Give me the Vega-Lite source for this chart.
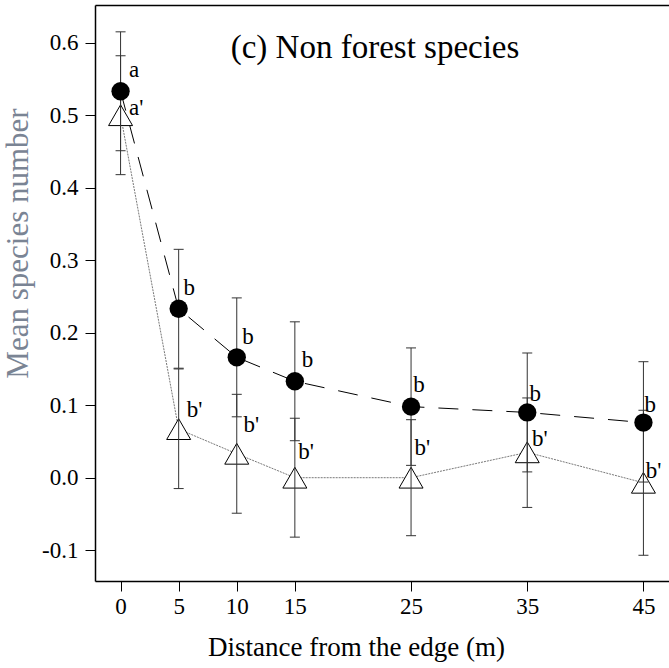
{
  "$schema": "https://vega.github.io/schema/vega-lite/v6.json",
  "autosize": "none",
  "width": 574,
  "height": 576,
  "padding": {"left": 95, "top": 5, "right": 0, "bottom": 87},
  "background": "white",
  "config": {
    "view": {"stroke": null},
    "font": "Liberation Serif",
    "style": {"guide-label": {"font": "Liberation Serif"}, "guide-title": {"font": "Liberation Serif"}},
    "axis": {
      "grid": false,
      "domainColor": "black",
      "domainWidth": 1.5,
      "tickColor": "black",
      "tickWidth": 1,
      "tickSize": 10,
      "labelFont": "Liberation Serif",
      "labelColor": "black",
      "labelFontSize": 23,
      "titleFont": "Liberation Serif",
      "titleFontWeight": "normal"
    }
  },
  "datasets": {
    "stats": [
      {"distance": 0, "series": "filled", "mean": 0.533, "lower": 0.451, "upper": 0.615},
      {"distance": 5, "series": "filled", "mean": 0.233, "lower": 0.151, "upper": 0.315},
      {"distance": 10, "series": "filled", "mean": 0.166, "lower": 0.084, "upper": 0.248},
      {"distance": 15, "series": "filled", "mean": 0.133, "lower": 0.051, "upper": 0.215},
      {"distance": 25, "series": "filled", "mean": 0.098, "lower": 0.017, "upper": 0.179},
      {"distance": 35, "series": "filled", "mean": 0.090, "lower": 0.008, "upper": 0.172},
      {"distance": 45, "series": "filled", "mean": 0.076, "lower": -0.006, "upper": 0.160},
      {"distance": 0, "series": "open", "mean": 0.500, "lower": 0.418, "upper": 0.582},
      {"distance": 5, "series": "open", "mean": 0.067, "lower": -0.015, "upper": 0.150},
      {"distance": 10, "series": "open", "mean": 0.033, "lower": -0.049, "upper": 0.115},
      {"distance": 15, "series": "open", "mean": 0.000, "lower": -0.082, "upper": 0.082},
      {"distance": 25, "series": "open", "mean": 0.000, "lower": -0.080, "upper": 0.080},
      {"distance": 35, "series": "open", "mean": 0.035, "lower": -0.041, "upper": 0.110},
      {"distance": 45, "series": "open", "mean": -0.007, "lower": -0.107, "upper": 0.093}
    ],
    "letters": [
      {"distance": 0.72, "value": 0.562, "label": "a"},
      {"distance": 0.72, "value": 0.510, "label": "a'"},
      {"distance": 5.42, "value": 0.261, "label": "b"},
      {"distance": 5.7, "value": 0.094, "label": "b'"},
      {"distance": 10.47, "value": 0.194, "label": "b"},
      {"distance": 10.58, "value": 0.073, "label": "b'"},
      {"distance": 15.6, "value": 0.163, "label": "b"},
      {"distance": 15.3, "value": 0.036, "label": "b'"},
      {"distance": 25.2, "value": 0.128, "label": "b"},
      {"distance": 25.3, "value": 0.041, "label": "b'"},
      {"distance": 35.2, "value": 0.115, "label": "b"},
      {"distance": 35.4, "value": 0.054, "label": "b'"},
      {"distance": 45.1, "value": 0.100, "label": "b"},
      {"distance": 45.2, "value": 0.0097, "label": "b'"}
    ],
    "heading": [
      {"text": "(c) Non forest species"}
    ]
  },
  "resolve": {"axis": {"x": "independent"}},
  "layer": [
    {
      "data": {"name": "stats"},
      "transform": [{"filter": "datum.series === 'filled'"}],
      "mark": {"type": "line", "color": "black", "strokeWidth": 1, "strokeDash": [20, 14]},
      "encoding": {
        "x": {
          "field": "distance", "type": "quantitative",
          "scale": {"domain": [-2.2, 47.2], "nice": false, "zero": false},
          "axis": {
            "orient": "bottom",
            "values": [0, 5, 10, 15, 25, 35, 45],
            "labelPadding": 4,
            "labelFont": "Times New Roman",
            "title": "Distance from the edge (m)",
            "titleFontSize": 27,
            "titleColor": "black",
            "titleX": 261,
            "titleY": 74,
            "titleAlign": "center",
            "titleBaseline": "alphabetic"
          }
        },
        "y": {
          "field": "mean", "type": "quantitative",
          "scale": {"domain": [-0.1425, 0.652], "nice": false, "zero": false},
          "axis": {
            "values": [-0.1, 0, 0.1, 0.2, 0.3, 0.4, 0.5, 0.6],
            "labelExpr": "replace(format(datum.value, '.1f'), '\u2212', '-')",
            "labelPadding": 7,
            "labelFont": "Times New Roman",
            "title": "Mean species number",
            "titleFontSize": 31,
            "titleColor": "#7a8494",
            "titleX": -77,
            "titleY": 238,
            "titleAlign": "center",
            "titleBaseline": "middle",
            "titleAngle": -90
          }
        }
      }
    },
    {
      "data": {"name": "stats"},
      "transform": [{"filter": "datum.series === 'open'"}],
      "mark": {"type": "line", "color": "#555", "strokeWidth": 0.8, "strokeDash": [2, 1]},
      "encoding": {
        "x": {"field": "distance", "type": "quantitative", "axis": null},
        "y": {"field": "mean", "type": "quantitative"}
      }
    },
    {
      "data": {"name": "stats"},
      "transform": [{"filter": "datum.series === 'open'"}],
      "mark": {"type": "point", "shape": "triangle-up", "size": 576, "filled": true, "fill": "white", "stroke": "black", "strokeWidth": 1, "opacity": 1},
      "encoding": {
        "x": {"field": "distance", "type": "quantitative", "axis": null},
        "y": {"field": "mean", "type": "quantitative"}
      }
    },
    {
      "data": {"name": "stats"},
      "mark": {"type": "rule", "color": "#333", "strokeWidth": 1},
      "encoding": {
        "x": {"field": "distance", "type": "quantitative", "axis": null},
        "y": {"field": "lower", "type": "quantitative"},
        "y2": {"field": "upper"}
      }
    },
    {
      "data": {"name": "stats"},
      "mark": {"type": "tick", "orient": "horizontal", "size": 10, "thickness": 1, "color": "#333", "opacity": 1},
      "encoding": {
        "x": {"field": "distance", "type": "quantitative", "axis": null},
        "y": {"field": "lower", "type": "quantitative"}
      }
    },
    {
      "data": {"name": "stats"},
      "mark": {"type": "tick", "orient": "horizontal", "size": 10, "thickness": 1, "color": "#333", "opacity": 1},
      "encoding": {
        "x": {"field": "distance", "type": "quantitative", "axis": null},
        "y": {"field": "upper", "type": "quantitative"}
      }
    },
    {
      "data": {"name": "stats"},
      "transform": [{"filter": "datum.series === 'filled'"}],
      "mark": {"type": "point", "shape": "circle", "size": 336, "filled": true, "color": "black", "opacity": 1},
      "encoding": {
        "x": {"field": "distance", "type": "quantitative", "axis": null},
        "y": {"field": "mean", "type": "quantitative"}
      }
    },
    {
      "data": {"name": "letters"},
      "mark": {"type": "text", "align": "left", "baseline": "middle", "font": "Times New Roman", "fontSize": 23, "color": "black"},
      "encoding": {
        "x": {"field": "distance", "type": "quantitative", "axis": null},
        "y": {"field": "value", "type": "quantitative"},
        "text": {"field": "label"}
      }
    },
    {
      "data": {"name": "heading"},
      "mark": {"type": "text", "align": "center", "baseline": "middle", "font": "Times New Roman", "fontSize": 33, "color": "black"},
      "encoding": {
        "x": {
          "datum": 21.9, "type": "quantitative",
          "axis": {"orient": "top", "ticks": false, "labels": false, "title": null, "domain": true}
        },
        "y": {"datum": 0.593, "type": "quantitative"},
        "text": {"field": "text"}
      }
    }
  ]
}
